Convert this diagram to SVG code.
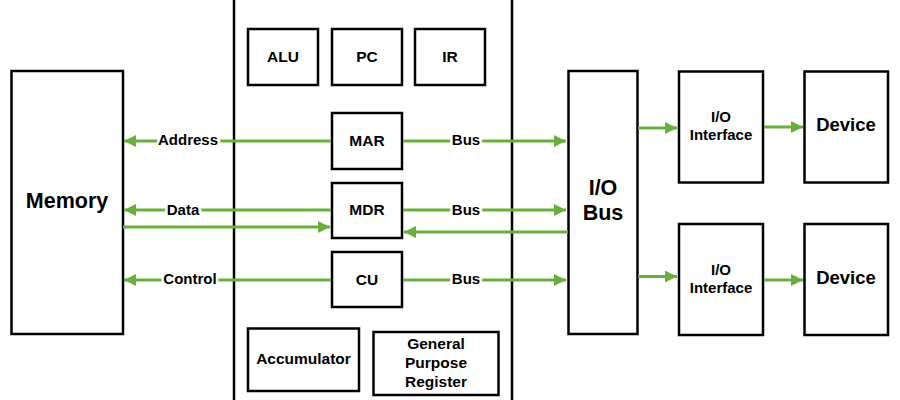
<svg xmlns="http://www.w3.org/2000/svg" width="900" height="400" viewBox="0 0 900 400">
<style>
.box{fill:#fff;stroke:#000;stroke-width:2.5}
.t{font-family:"Liberation Sans",Arial,sans-serif;font-weight:bold;fill:#000;text-anchor:middle;dominant-baseline:central}
.s15{font-size:15.5px}
.s13{font-size:15px}
.s17{font-size:18.5px}
.s20{font-size:21.5px}
.c{stroke:#6aaf3d;stroke-width:3;fill:none;marker-end:url(#ah)}
.lbl{font-family:"Liberation Sans",Arial,sans-serif;font-weight:bold;font-size:15px;fill:#000;text-anchor:middle;dominant-baseline:central;stroke:#fff;stroke-width:5;paint-order:stroke}
</style>
<defs>
<marker id="ah" viewBox="0 0 10 10" refX="10" refY="5" markerWidth="5" markerHeight="4" orient="auto" markerUnits="strokeWidth">
<path d="M0,0 L10,5 L0,10 z" fill="#6aaf3d"/>
</marker>
</defs>
<rect x="0" y="0" width="900" height="400" fill="#fff"/>
<g id="cpu"><rect class="box" x="234" y="-10" width="278" height="420"/></g>
<g id="memory"><rect class="box" x="11.5" y="71" width="111.5" height="263"/><text class="t s20" x="67" y="201">Memory</text></g>
<g id="alu"><rect class="box" x="248" y="29" width="70" height="56"/><text class="t s15" x="283" y="56">ALU</text></g>
<g id="pc"><rect class="box" x="332" y="29" width="70" height="56"/><text class="t s15" x="367" y="56">PC</text></g>
<g id="ir"><rect class="box" x="415" y="29" width="70" height="56"/><text class="t s15" x="450" y="56">IR</text></g>
<g id="mar"><rect class="box" x="332" y="113" width="70" height="56"/><text class="t s15" x="367" y="140">MAR</text></g>
<g id="mdr"><rect class="box" x="332" y="183" width="70" height="55"/><text class="t s15" x="367" y="209">MDR</text></g>
<g id="cu"><rect class="box" x="332" y="252" width="70" height="55"/><text class="t s15" x="367" y="279">CU</text></g>
<g id="acc"><rect class="box" x="248" y="328.5" width="111" height="62.5"/><text class="t s15" x="303.5" y="358">Accumulator</text></g>
<g id="gpr"><rect class="box" x="373.5" y="332" width="125" height="63"/><text class="t s15" x="436" y="343">General</text><text class="t s15" x="436" y="362">Purpose</text><text class="t s15" x="436" y="381">Register</text></g>
<g id="iobus"><rect class="box" x="568.5" y="71" width="69" height="263"/><text class="t s20" x="603" y="188">I/O</text><text class="t s20" x="603" y="213">Bus</text></g>
<g id="ioif1"><rect class="box" x="679" y="71.5" width="84" height="111"/><text class="t s13" x="721" y="116">I/O</text><text class="t s13" x="721" y="134">Interface</text></g>
<g id="ioif2"><rect class="box" x="679" y="224" width="84" height="111"/><text class="t s13" x="721" y="269">I/O</text><text class="t s13" x="721" y="287">Interface</text></g>
<g id="dev1"><rect class="box" x="804.5" y="71.5" width="83.5" height="111"/><text class="t s17" x="846" y="124">Device</text></g>
<g id="dev2"><rect class="box" x="804.5" y="224" width="83.5" height="111"/><text class="t s17" x="846" y="277">Device</text></g>
<g id="connectors">
<line class="c" x1="331" y1="141" x2="124" y2="141"/>
<text class="lbl" x="188" y="139">Address</text>
<line class="c" x1="331" y1="210" x2="124" y2="210"/>
<text class="lbl" x="183" y="209">Data</text>
<line class="c" x1="123" y1="227" x2="330" y2="227"/>
<line class="c" x1="331" y1="280" x2="124" y2="280"/>
<text class="lbl" x="190" y="278">Control</text>
<line class="c" x1="403" y1="141" x2="566" y2="141"/>
<text class="lbl" x="466" y="139">Bus</text>
<line class="c" x1="403" y1="210" x2="566" y2="210"/>
<text class="lbl" x="466" y="209">Bus</text>
<line class="c" x1="568" y1="232" x2="404" y2="232"/>
<line class="c" x1="403" y1="280" x2="566" y2="280"/>
<text class="lbl" x="466" y="278">Bus</text>
<line class="c" x1="638" y1="128" x2="677" y2="128"/>
<line class="c" x1="638" y1="276.5" x2="677" y2="276.5"/>
<line class="c" x1="764" y1="127" x2="803" y2="127"/>
<line class="c" x1="764" y1="280" x2="803" y2="280"/>
</g>
</svg>
